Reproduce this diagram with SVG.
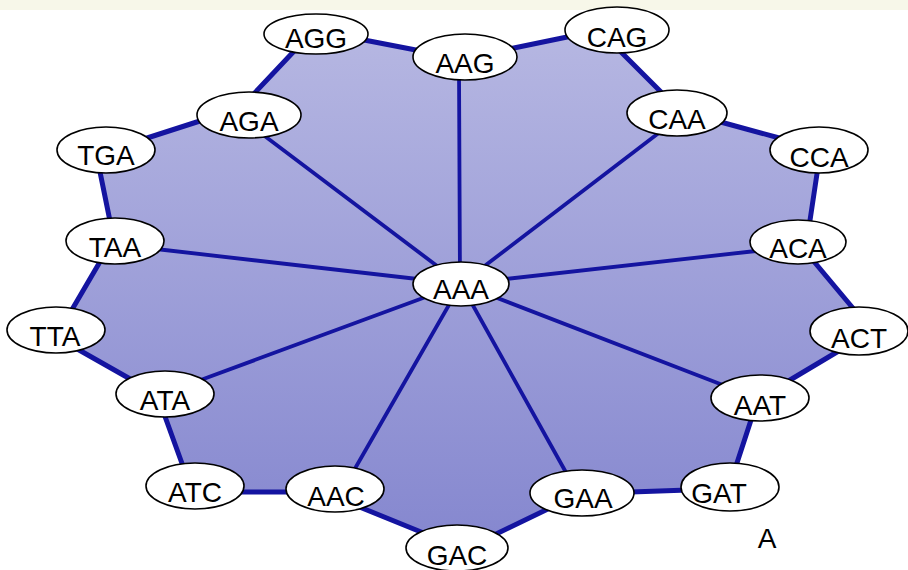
<svg xmlns="http://www.w3.org/2000/svg" width="908" height="570" viewBox="0 0 908 570">
  <defs>
    <linearGradient id="faceFill" x1="0" y1="30" x2="0" y2="545" gradientUnits="userSpaceOnUse">
      <stop offset="0" stop-color="#b6b7e2"/>
      <stop offset="1" stop-color="#8587cf"/>
    </linearGradient>
  </defs>
  <style>
    .rim { stroke: #1414a0; stroke-width: 5; stroke-linecap: round; fill: none; }
    .spoke { stroke: #1414a0; stroke-width: 3.8; stroke-linecap: round; fill: none; }
    .node ellipse { fill: #ffffff; stroke: #000000; stroke-width: 1.6; }
    .node text, .label { font-family: "Liberation Sans", Arial, sans-serif; font-size: 28px; fill: #000000; text-anchor: middle; }
  </style>

  <!-- top band -->
  <rect x="0" y="0" width="908" height="10" fill="#f7f7e9"/>

  <!-- shaded face of the 18-sided ring -->
  <path fill="url(#faceFill)" d="M316,34 L365,40 L415,50 L465,57 L515,48 L566,37 L617,30 L622,53 L660,91 L677,113 L723,123 L777,137 L819,150 L817,173 L810,221 L798,242 L815,263 L853,308 L859,331 L837,352 L790,380 L760,398 L750,423 L737,463 L730,487 L682,490 L637,492 L582,493 L547,510 L497,533 L457,548 L420,532 L363,508 L335,489 L287,492 L243,492 L195,486 L182,463 L165,417 L165,394 L127,377 L77,349 L56,330 L74,309 L98,265 L115,241 L110,220 L100,173 L106,150 L150,137 L197,122 L249,115 L253,95 L293,52 Z"/>

  <g id="connectors">
    <!-- outer ring -->
    <line class="rim" x1="359" y1="39" x2="421" y2="51"/>
    <line class="rim" x1="509" y1="49" x2="572" y2="36"/>
    <line class="rim" x1="618" y1="49" x2="664" y2="95"/>
    <line class="rim" x1="717" y1="121" x2="783" y2="139"/>
    <line class="rim" x1="818" y1="167" x2="809" y2="227"/>
    <line class="rim" x1="811" y1="258" x2="857" y2="313"/>
    <line class="rim" x1="842" y1="349" x2="785" y2="383"/>
    <line class="rim" x1="752" y1="417" x2="735" y2="469"/>
    <line class="rim" x1="688" y1="490" x2="631" y2="492"/>
    <line class="rim" x1="552" y1="507" x2="492" y2="536"/>
    <line class="rim" x1="426" y1="534" x2="357" y2="506"/>
    <line class="rim" x1="293" y1="492" x2="237" y2="492"/>
    <line class="rim" x1="184" y1="469" x2="163" y2="411"/>
    <line class="rim" x1="132" y1="380" x2="72" y2="346"/>
    <line class="rim" x1="70" y1="313" x2="101" y2="260"/>
    <line class="rim" x1="111" y1="226" x2="99" y2="167"/>
    <line class="rim" x1="144" y1="139" x2="203" y2="120"/>
    <line class="rim" x1="249" y1="99" x2="297" y2="48"/>
    <!-- spokes from the hub -->
    <line class="spoke" x1="460" y1="284" x2="459" y2="70"/>
    <line class="spoke" x1="461" y1="284" x2="660" y2="132"/>
    <line class="spoke" x1="461" y1="284" x2="756" y2="251"/>
    <line class="spoke" x1="461" y1="284" x2="728" y2="387"/>
    <line class="spoke" x1="461" y1="284" x2="568" y2="476"/>
    <line class="spoke" x1="461" y1="284" x2="353" y2="472"/>
    <line class="spoke" x1="461" y1="284" x2="198" y2="381"/>
    <line class="spoke" x1="461" y1="284" x2="156" y2="249"/>
    <line class="spoke" x1="461" y1="284" x2="262" y2="134"/>
  </g>

  <g id="AGG" class="node"><ellipse cx="316" cy="34" rx="52" ry="20"/><text x="316" y="48">AGG</text></g>
  <g id="AAG" class="node"><ellipse cx="465" cy="57" rx="52" ry="23"/><text x="465" y="73">AAG</text></g>
  <g id="CAG" class="node"><ellipse cx="617" cy="30" rx="52" ry="23"/><text x="617" y="47">CAG</text></g>
  <g id="AGA" class="node"><ellipse cx="249" cy="115" rx="52" ry="23"/><text x="249" y="131">AGA</text></g>
  <g id="CAA" class="node"><ellipse cx="677" cy="113" rx="50" ry="23"/><text x="677" y="129">CAA</text></g>
  <g id="TGA" class="node"><ellipse cx="106" cy="150" rx="49" ry="23"/><text x="106" y="165">TGA</text></g>
  <g id="CCA" class="node"><ellipse cx="819" cy="150" rx="49" ry="23"/><text x="819" y="167">CCA</text></g>
  <g id="TAA" class="node"><ellipse cx="115" cy="241" rx="49" ry="23"/><text x="115" y="257">TAA</text></g>
  <g id="ACA" class="node"><ellipse cx="798" cy="242" rx="48" ry="22"/><text x="798" y="258">ACA</text></g>
  <g id="AAA" class="node"><ellipse cx="461" cy="284" rx="48" ry="22"/><text x="461" y="299">AAA</text></g>
  <g id="TTA" class="node"><ellipse cx="56" cy="330" rx="49" ry="23"/><text x="55" y="346">TTA</text></g>
  <g id="ACT" class="node"><ellipse cx="859" cy="331" rx="49" ry="24"/><text x="859" y="348">ACT</text></g>
  <g id="ATA" class="node"><ellipse cx="165" cy="394" rx="49" ry="23"/><text x="165" y="410">ATA</text></g>
  <g id="AAT" class="node"><ellipse cx="760" cy="398" rx="49" ry="23"/><text x="760" y="415">AAT</text></g>
  <g id="ATC" class="node"><ellipse cx="195" cy="486" rx="49" ry="23"/><text x="195" y="502">ATC</text></g>
  <g id="AAC" class="node"><ellipse cx="335" cy="489" rx="49" ry="23"/><text x="336" y="506">AAC</text></g>
  <g id="GAA" class="node"><ellipse cx="582" cy="493" rx="52" ry="23"/><text x="583" y="508">GAA</text></g>
  <g id="GAT" class="node"><ellipse cx="730" cy="487" rx="49" ry="24"/><text x="719" y="503">GAT</text></g>
  <g id="GAC" class="node"><ellipse cx="457" cy="548" rx="51" ry="23"/><text x="457" y="565">GAC</text></g>

  <text class="label" x="767" y="548">A</text>
</svg>
